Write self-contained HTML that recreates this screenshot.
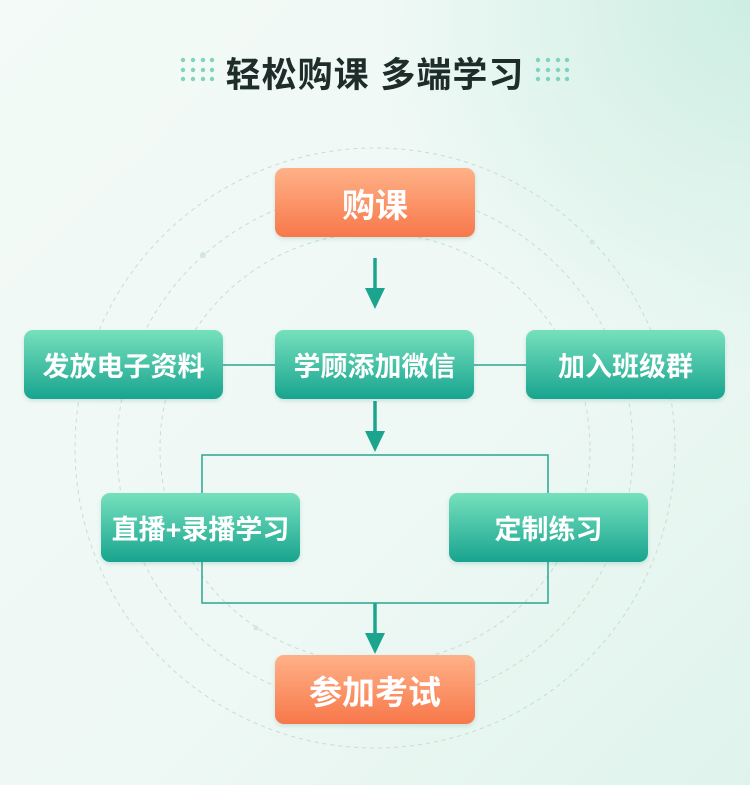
<!DOCTYPE html>
<html><head><meta charset="utf-8"><style>
body{margin:0;width:750px;height:785px;overflow:hidden;font-family:"Liberation Sans","Noto Sans CJK SC",sans-serif;background:linear-gradient(135deg,#f3faf7 0%,#eef8f4 60%,#dff3ec 100%);position:relative}
.bg{position:absolute;inset:0;background:radial-gradient(circle at 100% 0%,#cdeee3 0,rgba(205,238,227,0) 35%)}
.t{position:absolute;top:47px;left:0;width:750px;text-align:center;font-size:35px;font-weight:bold;color:#1f2d2a;letter-spacing:1px}
.b{position:absolute;height:69px;border-radius:9px;color:#fff;font-weight:bold;display:flex;align-items:center;justify-content:center;font-size:27px;background:linear-gradient(#76e0bd,#18a48f);box-shadow:0 2px 4px rgba(0,100,80,.15)}
.o{background:linear-gradient(#ffb188,#f7784a);font-size:33px}
svg{position:absolute;left:0;top:0}
</style></head><body><div class="bg"></div>
<svg width="750" height="785">
<g fill="none" stroke="#c6ddd6" stroke-dasharray="4 4" stroke-width="1">
<circle cx="375" cy="448" r="300"/><circle cx="375" cy="448" r="258"/><circle cx="375" cy="448" r="215"/></g>
<circle cx="203" cy="255" r="3" fill="#d3e6e0"/><circle cx="592" cy="242" r="2.5" fill="#d3e6e0"/><circle cx="256" cy="628" r="2.5" fill="#d3e6e0"/>
<g fill="#7fd3c0"><g id="d">
<circle cx="183" cy="60" r="2.2"/><circle cx="193" cy="60" r="2.2"/><circle cx="203" cy="60" r="2.2"/><circle cx="212" cy="60" r="2.2"/>
<circle cx="183" cy="70" r="2.2"/><circle cx="193" cy="70" r="2.2"/><circle cx="203" cy="70" r="2.2"/><circle cx="212" cy="70" r="2.2"/>
<circle cx="183" cy="79" r="2.2"/><circle cx="193" cy="79" r="2.2"/><circle cx="203" cy="79" r="2.2"/><circle cx="212" cy="79" r="2.2"/></g>
<use href="#d" x="355"/></g>
<g stroke="#2aa58f" stroke-width="1.5" fill="none">
<line x1="223" y1="365" x2="526" y2="365"/>
<polyline points="202,493 202,455 548,455 548,493"/>
<polyline points="202,562 202,603 548,603 548,562"/></g>
<g stroke="#1ba58f" stroke-width="3.5"><line x1="375" y1="258" x2="375" y2="292"/><line x1="375" y1="401" x2="375" y2="436"/><line x1="375" y1="603" x2="375" y2="637"/></g>
<g fill="#1ba58f"><polygon points="365,288 385,288 375,309"/><polygon points="365,431 385,431 375,452"/><polygon points="365,633 385,633 375,654"/></g>
</svg>
<div class="t">轻松购课 多端学习</div>
<div class="b o" style="left:275px;top:168px;width:200px">购课</div>
<div class="b" style="left:24px;top:330px;width:199px">发放电子资料</div>
<div class="b" style="left:275px;top:330px;width:199px">学顾添加微信</div>
<div class="b" style="left:526px;top:330px;width:199px">加入班级群</div>
<div class="b" style="left:101px;top:493px;width:199px">直播+录播学习</div>
<div class="b" style="left:449px;top:493px;width:199px">定制练习</div>
<div class="b o" style="left:275px;top:655px;width:200px">参加考试</div>
</body></html>
